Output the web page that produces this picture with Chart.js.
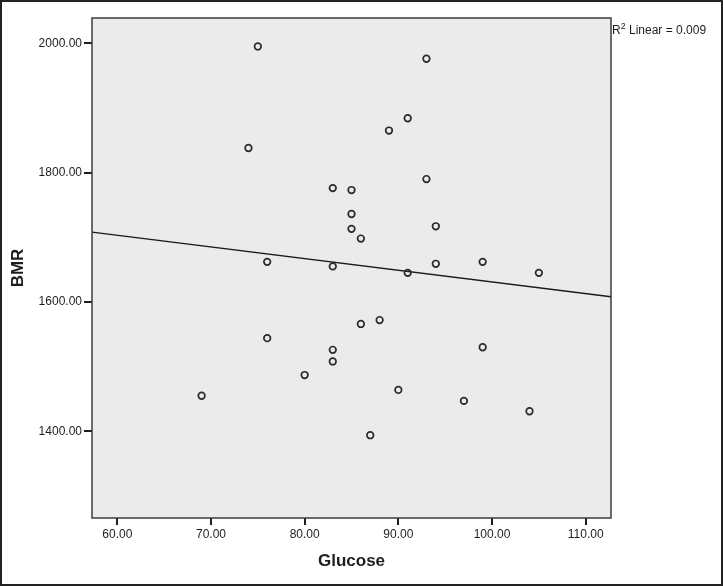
<!DOCTYPE html>
<html>
<head>
<meta charset="utf-8">
<script src="https://cdn.jsdelivr.net/npm/chart.js@4/dist/chart.umd.min.js"></script>
<style>
  html, body { margin: 0; padding: 0; background: #fff; }
  #wrap { width: 723px; height: 586px; position: relative; }
</style>
</head>
<body>
<div id="wrap"><canvas id="scatter"></canvas></div>
<script>
// values
const glucose = [75, 93, 91, 89, 74, 93, 83, 85, 85, 85, 86, 94, 76, 83, 91,
                 94, 99, 105, 86, 88, 76, 83, 83, 99, 80, 90, 97, 87, 69, 104];
const bmr = [1995, 1976, 1884, 1865, 1838, 1790, 1776, 1773, 1736, 1713, 1698, 1717, 1662, 1655, 1645,
             1659, 1662, 1645, 1566, 1572, 1544, 1526, 1508, 1530, 1487, 1464, 1447, 1394, 1455, 1431];

// fit line end points (at the plot edges)
const fitX = [57.3, 112.7];
const fitY = [1708, 1608];

const xTicks = [60, 70, 80, 90, 100, 110];
const yTicks = [1400, 1600, 1800, 2000];
const r2Text = 'Linear = 0.009';

const points = glucose.map((g, i) => ({ x: g, y: bmr[i] }));
const fitLine = fitX.map((x, i) => ({ x: x, y: fitY[i] }));

const ink = '#1e1e1e';

// gray plot background, frame, outer border and the R2 note
const spssFrame = {
  id: 'spssFrame',
  beforeDatasetsDraw(chart) {
    const { ctx, chartArea: a } = chart;
    ctx.save();
    ctx.fillStyle = '#ebebeb';
    ctx.fillRect(a.left, a.top, a.right - a.left, a.bottom - a.top);
    ctx.restore();
  },
  afterDraw(chart) {
    const { ctx, chartArea: a, width, height } = chart;
    ctx.save();
    ctx.strokeStyle = '#3c3c3c';
    ctx.lineWidth = 1.5;
    ctx.strokeRect(a.left, a.top, a.right - a.left, a.bottom - a.top);
    ctx.strokeStyle = '#222';
    ctx.lineWidth = 2;
    ctx.strokeRect(1, 1, width - 2, height - 2);

    ctx.fillStyle = ink;
    ctx.textBaseline = 'alphabetic';
    ctx.textAlign = 'left';
    let x = a.right + 1;
    const y = 34;
    ctx.font = '12px "Liberation Sans", Arial, sans-serif';
    ctx.fillText('R', x, y);
    x += ctx.measureText('R').width;
    ctx.font = '9px "Liberation Sans", Arial, sans-serif';
    ctx.fillText('2', x, y - 5);
    x += ctx.measureText('2').width;
    ctx.font = '12px "Liberation Sans", Arial, sans-serif';
    ctx.fillText(' ' + r2Text, x, y);
    ctx.restore();
  }
};

new Chart(document.getElementById('scatter'), {
  type: 'scatter',
  data: {
    datasets: [
      {
        label: 'BMR',
        data: points,
        pointRadius: 3.3,
        pointBorderWidth: 1.7,
        pointBorderColor: '#2a2a2a',
        pointBackgroundColor: 'rgba(0,0,0,0)',
        order: 1
      },
      {
        type: 'line',
        label: 'Fit',
        data: fitLine,
        borderColor: '#1a1a1a',
        borderWidth: 1.4,
        pointRadius: 0,
        fill: false,
        order: 2
      }
    ]
  },
  plugins: [spssFrame],
  options: {
    responsive: true,
    maintainAspectRatio: false,
    animation: false,
    layout: { padding: { left: 0, top: 18, right: 112, bottom: 0 } },
    plugins: {
      legend: { display: false },
      tooltip: { enabled: false }
    },
    scales: {
      x: {
        type: 'linear',
        min: 57.3,
        max: 112.7,
        afterBuildTicks: (scale) => { scale.ticks = xTicks.map(v => ({ value: v })); },
        afterFit: (scale) => { scale.height = 68; },
        border: { display: false },
        grid: { drawOnChartArea: false, drawTicks: true, tickLength: 7, color: ink, lineWidth: 2 },
        ticks: {
          padding: 2,
          color: ink,
          font: { family: '"Liberation Sans", Arial, sans-serif', size: 12 },
          callback: (v) => Number(v).toFixed(2)
        },
        title: {
          display: true,
          text: 'Glucose',
          color: ink,
          font: { family: '"Liberation Sans", Arial, sans-serif', size: 17, weight: 'bold', lineHeight: 1 },
          padding: { top: 0, bottom: 16.5 }
        }
      },
      y: {
        type: 'linear',
        min: 1266,
        max: 2039,
        afterBuildTicks: (scale) => { scale.ticks = yTicks.map(v => ({ value: v })); },
        afterFit: (scale) => { scale.width = 92; },
        border: { display: false },
        grid: { drawOnChartArea: false, drawTicks: true, tickLength: 8, color: ink, lineWidth: 2 },
        ticks: {
          padding: 2,
          color: ink,
          font: { family: '"Liberation Sans", Arial, sans-serif', size: 12 },
          callback: (v) => Number(v).toFixed(2)
        },
        title: {
          display: true,
          text: 'BMR',
          color: ink,
          font: { family: '"Liberation Sans", Arial, sans-serif', size: 17, weight: 'bold', lineHeight: 1 },
          padding: { top: 9.5, bottom: 0 }
        }
      }
    }
  }
});
</script>
</body>
</html>
